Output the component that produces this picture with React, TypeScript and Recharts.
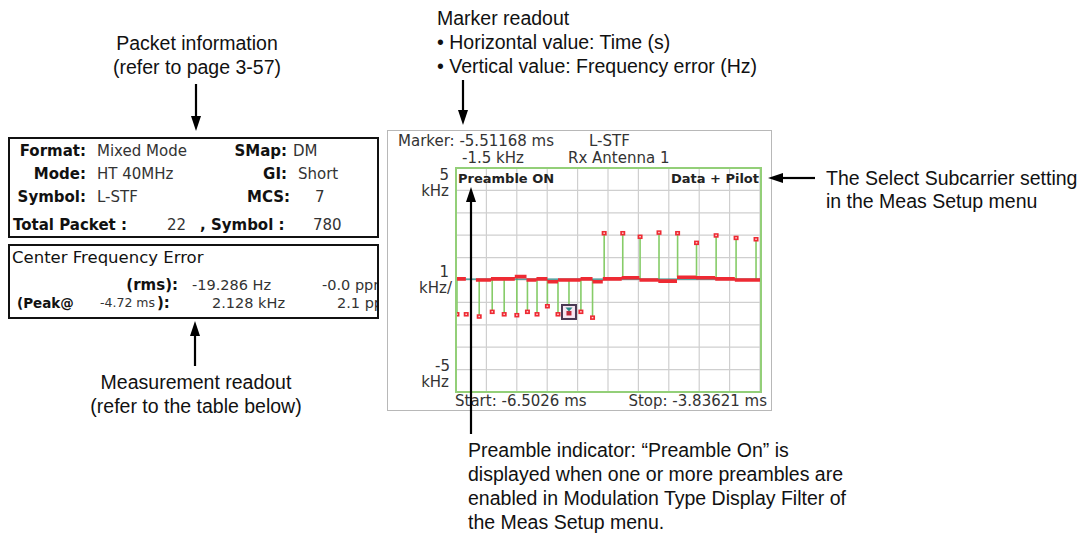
import React from 'react';
import { ComposedChart, Line, Scatter, XAxis, YAxis, ReferenceLine } from 'recharts';

// ---- axis range (ms / kHz) ----
const startMs = -6.5026;
const stopMs = -3.83621;
const yTicks = [-5, -4, -3, -2, -1, 0, 1, 2, 3, 4, 5];
const xTicks = [0, 1, 2, 3, 4, 5, 6, 7, 8, 9, 10].map((i) => startMs + (i * (stopMs - startMs)) / 10);

// ---- per-symbol frequency error points (time in ms, error in kHz) ----
const symbolTimes = [
  -6.494, -6.413, -6.299, -6.185, -6.08, -5.969, -5.876, -5.792, -5.701, -5.608, -5.51168,
  -5.407, -5.305, -5.203, -5.04, -4.888, -4.722, -4.559, -4.393, -4.221, -4.046, -3.871,
];
const symbolErrors = [
  -1.52, -1.52, -1.62, -1.41, -1.52, -1.56, -1.41, -1.52, -1.16, -1.52, -1.45,
  -1.41, -1.67, 2.1, 2.1, 1.94, 2.128, 2.1, 1.67, 2.0, 1.89, 1.83,
];

// ---- averaged (stepped) frequency error segments ----
const segStarts = [
  -6.5026, -6.328, -6.196, -5.987, -5.884, -5.797, -5.701, -5.608, -5.41, -5.305, -5.215,
  -5.049, -4.894, -4.728, -4.564, -4.398, -4.229, -4.057,
];
const segEnds = [
  -6.416, -6.196, -5.987, -5.884, -5.797, -5.701, -5.608, -5.41, -5.305, -5.215, -5.049,
  -4.894, -4.728, -4.564, -4.398, -4.229, -4.057, -3.83621,
];
const segLevels = [
  0.05, 0.0, 0.05, 0.15, 0.0, 0.05, -0.08, 0.0, 0.05, -0.08, 0.05, 0.1, 0.0, -0.05, 0.12,
  0.1, 0.05, 0.0,
];
const refLevel = 0.04;

// ---- marker ----
const markerTime = -5.51168;
const markerError = -1.45;

// ---- derived tables ----
const pointData = symbolTimes.map((t, i) => ({ t, v: symbolErrors[i] }));
const stepData: { t: number; v: number | null }[] = [];
segStarts.forEach((s, i) => {
  stepData.push({ t: s, v: segLevels[i] });
  stepData.push({ t: segEnds[i], v: segLevels[i] });
  stepData.push({ t: segEnds[i], v: null });
});
const levelAt = (t: number) => {
  for (let i = 0; i < segStarts.length; i++) {
    if (t >= segStarts[i] && t <= segEnds[i]) return segLevels[i];
  }
  return null;
};
const stemData: { t: number; v: number | null }[] = [];
pointData.forEach((p) => {
  const base = levelAt(p.t);
  if (base === null) return;
  stemData.push({ t: p.t, v: base });
  stemData.push({ t: p.t, v: p.v });
  stemData.push({ t: p.t, v: null });
});
const refData = [
  { t: startMs, v: refLevel },
  { t: stopMs, v: refLevel },
];
const markerData = [{ t: markerTime, v: markerError }];

const chartFont = '"DejaVu Sans", Tahoma, Verdana, sans-serif';
const annFont = '"Liberation Sans", Arial, Helvetica, sans-serif';

type TProps = {
  x: number;
  y: number;
  align?: 'left' | 'right' | 'center';
  size?: number;
  bold?: boolean;
  font?: string;
  color?: string;
  lh?: number;
  children: React.ReactNode;
};
const T = ({ x, y, align = 'left', size = 15, bold = false, font = chartFont, color = '#222', lh, children }: TProps) => {
  const l = lh ?? Math.round(size * 1.15);
  const style: React.CSSProperties = {
    position: 'absolute',
    top: y - l / 2,
    lineHeight: `${l}px`,
    fontSize: size,
    fontFamily: font,
    fontWeight: bold ? 700 : 400,
    color,
    whiteSpace: 'nowrap',
  };
  if (align === 'left') style.left = x;
  else if (align === 'right') style.right = 1090 - x;
  else {
    style.left = x;
    style.transform = 'translateX(-50%)';
  }
  return <div style={style}>{children}</div>;
};

const SymbolSquare = (props: any) => {
  const { cx, cy } = props;
  if (cx == null || cy == null) return null;
  return (
    <g>
      <rect x={cx - 2.5} y={cy - 2} width={5} height={4.5} fill="#ee2a33" />
      <rect x={cx - 0.8} y={cy - 0.5} width={1.6} height={1.4} fill="#ffd6d6" />
    </g>
  );
};

const MarkerBox = (props: any) => {
  const { cx, cy } = props;
  if (cx == null || cy == null) return null;
  return (
    <g>
      <rect x={cx - 7} y={cy - 7.5} width={14} height={14} fill="#f7e6f2" stroke="#4a3752" strokeWidth={2} />
      <rect x={cx - 2.5} y={cy - 1.5} width={5} height={4.5} fill="#c0283a" />
      <polygon points={`${cx - 3.5},${cy - 5} ${cx + 3.5},${cy - 5} ${cx},${cy - 1}`} fill="#2a8a86" />
    </g>
  );
};

const Arrow = ({ x1, y1, x2, y2 }: { x1: number; y1: number; x2: number; y2: number }) => {
  const dx = x2 - x1;
  const dy = y2 - y1;
  const len = Math.sqrt(dx * dx + dy * dy);
  const ux = dx / len;
  const uy = dy / len;
  const hl = 15;
  const hw = 5;
  const bx = x2 - ux * hl;
  const by = y2 - uy * hl;
  const px = -uy;
  const py = ux;
  return (
    <g>
      <line x1={x1} y1={y1} x2={bx} y2={by} stroke="#000" strokeWidth={2.2} />
      <polygon
        points={`${x2},${y2} ${bx + px * hw},${by + py * hw} ${bx - px * hw},${by - py * hw}`}
        fill="#000"
      />
    </g>
  );
};

export default function App() {
  return (
    <div
      style={{
        position: 'absolute',
        left: 0,
        top: 0,
        width: 1090,
        height: 538,
        background: '#fff',
        overflow: 'hidden',
      }}
    >
      {/* ---------- left: packet info box ---------- */}
      <div style={{ position: 'absolute', left: 8, top: 137, width: 371, height: 101, border: '2px solid #111', boxSizing: 'border-box' }} />
      <T x={86} y={151} align="right" bold color="#111">Format:</T>
      <T x={97} y={151} color="#333">Mixed Mode</T>
      <T x={287} y={151} align="right" bold color="#111">SMap:</T>
      <T x={293} y={151} color="#333">DM</T>
      <T x={86} y={174} align="right" bold color="#111">Mode:</T>
      <T x={97} y={174} color="#333">HT 40MHz</T>
      <T x={287} y={174} align="right" bold color="#111">GI:</T>
      <T x={298} y={174} color="#333">Short</T>
      <T x={86} y={197} align="right" bold color="#111">Symbol:</T>
      <T x={97} y={197} color="#333">L-STF</T>
      <T x={290} y={197} align="right" bold color="#111">MCS:</T>
      <T x={315} y={197} color="#333">7</T>
      <T x={13} y={225} bold color="#111">Total Packet :</T>
      <T x={167} y={225} color="#333">22</T>
      <T x={200} y={225} bold color="#111">, Symbol :</T>
      <T x={313} y={225} color="#333">780</T>

      {/* ---------- left: measurement box (texts clipped at the border) ---------- */}
      <div style={{ position: 'absolute', left: 0, top: 0, width: 1090, height: 538, clipPath: 'inset(0px 712px 0px 0px)' }}>
        <T x={12} y={257} size={16.5} color="#111">Center Frequency Error</T>
        <T x={178} y={285} align="right" size={15} bold color="#111">(rms):</T>
        <T x={192} y={285} size={14.5} color="#333">-19.286 Hz</T>
        <T x={322} y={285} size={14.5} color="#333">-0.0 ppm</T>
        <T x={17} y={303} size={13.5} bold color="#111">(Peak@</T>
        <T x={100} y={303} size={12.5} color="#333">-4.72 ms</T>
        <T x={157} y={303} size={15} bold color="#111">):</T>
        <T x={212} y={303} size={14.5} color="#333">2.128 kHz</T>
        <T x={337} y={303} size={14.5} color="#333">2.1 ppm</T>
      </div>
      <div style={{ position: 'absolute', left: 8, top: 244, width: 371, height: 75, border: '2px solid #111', boxSizing: 'border-box' }} />

      {/* ---------- chart frame ---------- */}
      <div style={{ position: 'absolute', left: 387, top: 130, width: 385, height: 281, border: '1px solid #b8b8b8', boxSizing: 'border-box' }} />
      <div style={{ position: 'absolute', left: 387, top: 130 }}>
        <ComposedChart width={384} height={280} margin={{ top: 38, right: 11, bottom: 18, left: 69 }}>
          <XAxis dataKey="t" type="number" domain={[startMs, stopMs]} allowDataOverflow hide />
          <YAxis dataKey="v" type="number" domain={[-5, 5]} allowDataOverflow hide />
          {xTicks.map((t) => (
            <ReferenceLine key={`gx${t}`} x={t} stroke="#cfcfcf" strokeWidth={1.2} />
          ))}
          {yTicks.map((v) => (
            <ReferenceLine key={`gy${v}`} y={v} stroke="#cfcfcf" strokeWidth={1.2} />
          ))}
          <Line data={stemData} dataKey="v" stroke="#86cc68" strokeWidth={1.6} dot={false} isAnimationActive={false} connectNulls={false} />
          <Line data={refData} dataKey="v" stroke="#2d8c8a" strokeWidth={1.3} dot={false} isAnimationActive={false} />
          <Line data={stepData} dataKey="v" stroke="#ee2a33" strokeWidth={3.6} dot={false} isAnimationActive={false} connectNulls={false} />
          <Scatter data={pointData} dataKey="v" shape={SymbolSquare} isAnimationActive={false} />
          <Scatter data={markerData} dataKey="v" shape={MarkerBox} isAnimationActive={false} />
        </ComposedChart>
      </div>
      <div style={{ position: 'absolute', left: 455, top: 167, width: 307, height: 226, border: '2px solid #93cf78', boxSizing: 'border-box', pointerEvents: 'none' }} />

      {/* chart texts */}
      <T x={398} y={141} color="#333">Marker: -5.51168 ms</T>
      <T x={589} y={141} color="#333">L-STF</T>
      <T x={462} y={158} color="#333">-1.5 kHz</T>
      <T x={568} y={158} color="#333">Rx Antenna 1</T>
      <T x={449} y={175} align="right" color="#333" lh={14}>5</T>
      <T x={449} y={191} align="right" color="#333" lh={14}>kHz</T>
      <T x={449} y={272} align="right" color="#333" lh={14}>1</T>
      <T x={452} y={288} align="right" color="#333" lh={14}>kHz/</T>
      <T x={450} y={366} align="right" color="#333" lh={14}>-5</T>
      <T x={449} y={382} align="right" color="#333" lh={14}>kHz</T>
      <T x={455} y={401} color="#333">Start: -6.5026 ms</T>
      <T x={767} y={401} align="right" color="#333">Stop: -3.83621 ms</T>
      <T x={458} y={178} size={13} bold color="#222">Preamble ON</T>
      <T x={759} y={178} align="right" size={13} bold color="#222">Data + Pilot</T>

      {/* ---------- annotations ---------- */}
      <T x={197} y={43} align="center" size={19.5} font={annFont} color="#111">Packet information</T>
      <T x={197} y={67} align="center" size={19.5} font={annFont} color="#111">(refer to page 3-57)</T>
      <T x={437} y={18} size={19.5} font={annFont} color="#111">Marker readout</T>
      <T x={437} y={42} size={19.5} font={annFont} color="#111">• Horizontal value: Time (s)</T>
      <T x={437} y={66} size={19.5} font={annFont} color="#111">• Vertical value: Frequency error (Hz)</T>
      <T x={826} y={178} size={19.5} font={annFont} color="#111">The Select Subcarrier setting</T>
      <T x={826} y={201} size={19.5} font={annFont} color="#111">in the Meas Setup menu</T>
      <T x={196} y={382} align="center" size={19.5} font={annFont} color="#111">Measurement readout</T>
      <T x={196} y={406} align="center" size={19.5} font={annFont} color="#111">(refer to the table below)</T>
      <T x={468} y={450} size={19.5} font={annFont} color="#111">Preamble indicator: “Preamble On” is</T>
      <T x={468} y={474} size={19.5} font={annFont} color="#111">displayed when one or more preambles are</T>
      <T x={468} y={498} size={19.5} font={annFont} color="#111">enabled in Modulation Type Display Filter of</T>
      <T x={468} y={522} size={19.5} font={annFont} color="#111">the Meas Setup menu.</T>

      <svg width={1090} height={538} style={{ position: 'absolute', left: 0, top: 0, pointerEvents: 'none' }}>
        <Arrow x1={196} y1={84} x2={196} y2={131} />
        <Arrow x1={463} y1={80} x2={463} y2={125} />
        <Arrow x1={815} y1={178} x2={768} y2={178} />
        <Arrow x1={195} y1={366} x2={195} y2={321} />
        <Arrow x1={471} y1={434} x2={471} y2={187} />
      </svg>
    </div>
  );
}
